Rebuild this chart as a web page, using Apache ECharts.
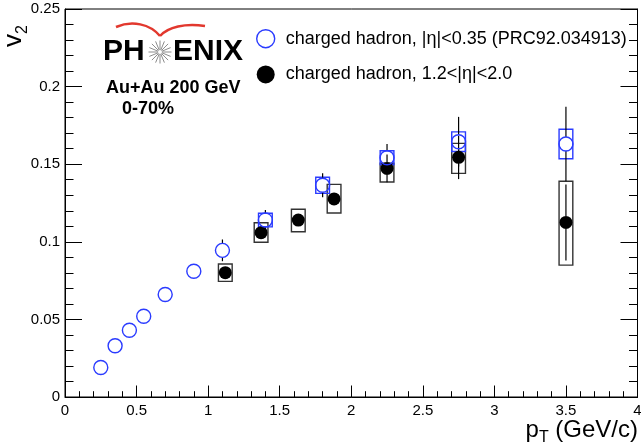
<!DOCTYPE html>
<html>
<head>
<meta charset="utf-8">
<script src="https://cdn.jsdelivr.net/npm/echarts@6/dist/echarts.min.js"></script>
<style>
  html, body { margin: 0; padding: 0; background: #fff; }
  #chart { width: 641px; height: 444px; }
</style>
</head>
<body>
<div id="chart"></div>
<script>
// Mid-rapidity charged hadrons, |eta| < 0.35 (PRC92.034913)
const ptMid   = [0.25, 0.35, 0.45, 0.55, 0.70, 0.90, 1.10, 1.40, 1.80, 2.25, 2.75, 3.50];
const v2Mid   = [0.019, 0.033, 0.043, 0.052, 0.066, 0.081, 0.0945, 0.114, 0.1364, 0.1542, 0.1645, 0.163];
const statMid = [0.002, 0.002, 0.002, 0.002, 0.002, 0.003, 0.007, 0.0065, 0.0077, 0.0088, 0.016, 0.024];
const sysMid  = [null, null, null, null, null, null, null, 0.0044, 0.0052, 0.0045, 0.0063, 0.0095];

// Forward charged hadrons, 1.2 < |eta| < 2.0
const ptFwd     = [1.12, 1.37, 1.63, 1.88, 2.25, 2.75, 3.50];
const v2Fwd     = [0.0801, 0.1059, 0.114, 0.1276, 0.1473, 0.1544, 0.1125];
const statFwd   = [0.003, 0.003, 0.003, 0.004, 0.009, 0.014, 0.0245];
const sysFwdUp  = [0.0056, 0.0064, 0.0070, 0.0094, 0.0033, 0.0090, 0.0265];
const sysFwdDn  = [0.0056, 0.0062, 0.0075, 0.0090, 0.0088, 0.0103, 0.0275];

// Axis ticks
const xTicks = [0, 0.5, 1, 1.5, 2, 2.5, 3, 3.5, 4];
const yTicks = [0, 0.05, 0.1, 0.15, 0.2, 0.25];

const nameMid = 'charged hadron, |\u03B7|<0.35 (PRC92.034913)';
const nameFwd = 'charged hadron, 1.2<|\u03B7|<2.0';

const FONT = '"Liberation Sans", Helvetica, Arial, sans-serif';
const BLUE = '#2a3bff';
const BOX_HW = 0.048;   // half width of systematic boxes, in GeV/c

const midRows = ptMid.map((x, i) => [x, v2Mid[i], statMid[i]]);
const fwdRows = ptFwd.map((x, i) => [x, v2Fwd[i], statFwd[i]]);
const midSys = ptMid.map((x, i) => [x, v2Mid[i], sysMid[i], sysMid[i]]).filter(r => r[2] != null);
const fwdSys = ptFwd.map((x, i) => [x, v2Fwd[i], sysFwdUp[i], sysFwdDn[i]]);

function boxItem(color) {
  return function (params, api) {
    const x = api.value(0), y = api.value(1), up = api.value(2), dn = api.value(3);
    const a = api.coord([x - BOX_HW, y + up]);
    const b = api.coord([x + BOX_HW, y - dn]);
    return {
      type: 'rect',
      shape: { x: a[0], y: a[1], width: b[0] - a[0], height: b[1] - a[1] },
      style: { fill: 'none', stroke: color, lineWidth: 1.4 }
    };
  };
}

// vertical statistical error bars, drawn outside the marker
function errItem(r) {
  return function (params, api) {
    const x = api.value(0), y = api.value(1), e = api.value(2);
    const c = api.coord([x, y]);
    const t = api.coord([x, y + e]);
    const b = api.coord([x, y - e]);
    const children = [];
    if (c[1] - t[1] > r) children.push({ type: 'line', shape: { x1: c[0], y1: t[1], x2: c[0], y2: c[1] - r }, style: { stroke: '#000', lineWidth: 1.2 } });
    if (b[1] - c[1] > r) children.push({ type: 'line', shape: { x1: c[0], y1: c[1] + r, x2: c[0], y2: b[1] }, style: { stroke: '#000', lineWidth: 1.2 } });
    return { type: 'group', children };
  };
}

// sunburst of the logo
const rays = [];
for (let k = 0; k < 16; k++) {
  const a = k * Math.PI / 8;
  rays.push({
    type: 'line', silent: true,
    shape: { x1: 160 + 2 * Math.cos(a), y1: 52 + 2 * Math.sin(a), x2: 160 + 11.5 * Math.cos(a), y2: 52 + 11.5 * Math.sin(a) },
    style: { stroke: '#8c8c8c', lineWidth: 1 }
  });
}

const axisCommon = {
  type: 'value',
  axisLine: { show: true, onZero: false, lineStyle: { color: '#000', width: 1 } },
  splitLine: { show: false },
  axisLabel: { color: '#000', fontSize: 15, fontFamily: FONT }
};

// main text token raised a little so the second token sits as a subscript
const richTitle = {
  a: { fontSize: 24, fontFamily: FONT, fill: '#000', color: '#000', verticalAlign: 'bottom', padding: [0, 0, 4, 0] },
  b: { fontSize: 16, fontFamily: FONT, fill: '#000', color: '#000', verticalAlign: 'bottom' }
};
const richTitleY = {
  a: { fontSize: 26, fontFamily: FONT, fill: '#000', color: '#000', verticalAlign: 'bottom', padding: [0, 0, 4, 0] },
  b: { fontSize: 16, fontFamily: FONT, fill: '#000', color: '#000', verticalAlign: 'bottom' }
};

const chart = echarts.init(document.getElementById('chart'), null, { renderer: 'canvas' });
chart.setOption({
  animation: false,
  backgroundColor: '#fff',
  grid: { left: 65, right: 3.5, top: 9, bottom: 47, containLabel: false, outerBoundsMode: 'none',
          show: true, borderColor: '#000', borderWidth: 1, backgroundColor: 'transparent' },
  xAxis: Object.assign({}, axisCommon, {
    min: xTicks[0], max: xTicks[xTicks.length - 1], interval: xTicks[1] - xTicks[0],
    axisTick: { show: true, inside: true, length: 11.5, lineStyle: { color: '#000' } },
    minorTick: { show: true, splitNumber: 5, length: 5.8, lineStyle: { color: '#000' } },
    axisLabel: Object.assign({}, axisCommon.axisLabel, { margin: 6 })
  }),
  yAxis: [
    Object.assign({}, axisCommon, {
      min: yTicks[0], max: yTicks[yTicks.length - 1], interval: yTicks[1] - yTicks[0],
      axisTick: { show: true, inside: true, length: 17, lineStyle: { color: '#000' } },
      minorTick: { show: true, splitNumber: 5, length: 8.5, lineStyle: { color: '#000' } },
      axisLabel: Object.assign({}, axisCommon.axisLabel, { margin: 5 })
    }),
    Object.assign({}, axisCommon, {
      position: 'right',
      min: yTicks[0], max: yTicks[yTicks.length - 1], interval: yTicks[1] - yTicks[0],
      axisTick: { show: true, inside: true, length: 17, lineStyle: { color: '#000' } },
      minorTick: { show: true, splitNumber: 5, length: 8.5, lineStyle: { color: '#000' } },
      axisLabel: { show: false }
    })
  ],
  legend: {
    orient: 'vertical', left: 251, top: 24,
    itemWidth: 30, itemHeight: 18, itemGap: 17,
    selectedMode: false,
    textStyle: { fontSize: 18, fontFamily: FONT, color: '#000', lineHeight: 18 },
    data: [
      { name: nameMid, icon: 'circle', itemStyle: { color: 'rgba(0,0,0,0)', borderColor: BLUE, borderWidth: 1.4 } },
      { name: nameFwd, icon: 'circle', itemStyle: { color: '#000' } }
    ]
  },
  graphic: [
    // logo wings
    { type: 'bezierCurve', silent: true, shape: { x1: 116, y1: 27, cpx1: 132, cpy1: 20, cpx2: 150, cpy2: 24, x2: 160, y2: 36 }, style: { stroke: '#e2382e', lineWidth: 2.5, fill: 'none' } },
    { type: 'bezierCurve', silent: true, shape: { x1: 160, y1: 36, cpx1: 168, cpy1: 27, cpx2: 185, cpy2: 23, x2: 205, y2: 26 }, style: { stroke: '#e2382e', lineWidth: 2.5, fill: 'none' } },
    ...rays,
    { type: 'text', silent: true, x: 103, y: 52, style: { text: 'PH', fill: '#000', font: 'bold 30px ' + FONT, align: 'left', verticalAlign: 'middle', textAlign: 'left', textVerticalAlign: 'middle' } },
    { type: 'text', silent: true, x: 173, y: 52, style: { text: 'ENIX', fill: '#000', font: 'bold 30px ' + FONT, align: 'left', verticalAlign: 'middle', textAlign: 'left', textVerticalAlign: 'middle' } },
    { type: 'text', silent: true, x: 106, y: 88, style: { text: 'Au+Au 200 GeV', fill: '#000', font: 'bold 18px ' + FONT, align: 'left', verticalAlign: 'middle', textAlign: 'left', textVerticalAlign: 'middle' } },
    { type: 'text', silent: true, x: 122, y: 109.5, style: { text: '0-70%', fill: '#000', font: 'bold 18px ' + FONT, align: 'left', verticalAlign: 'middle', textAlign: 'left', textVerticalAlign: 'middle' } },
    // axis titles
    { type: 'text', silent: true, x: 638, y: 446, style: {
        text: '{a|p}{b|T}{a| (GeV/c)}', align: 'right', verticalAlign: 'bottom', textAlign: 'right', textVerticalAlign: 'bottom',
        rich: richTitle } },
    { type: 'text', silent: true, x: 31, y: 47, rotation: Math.PI / 2, style: {
        text: '{a|v}{b|2}', align: 'left', verticalAlign: 'bottom', textAlign: 'left', textVerticalAlign: 'bottom',
        rich: richTitleY } }
  ],
  series: [
    { name: 'sys-fwd', type: 'custom', renderItem: boxItem('#333'), data: fwdSys, encode: { x: 0, y: 1 }, z: 2, silent: true },
    { name: 'sys-mid', type: 'custom', renderItem: boxItem(BLUE), data: midSys, encode: { x: 0, y: 1 }, z: 3, silent: true },
    { name: 'stat-fwd', type: 'custom', renderItem: errItem(6.5), data: fwdRows, encode: { x: 0, y: 1 }, z: 4, silent: true },
    { name: 'stat-mid', type: 'custom', renderItem: errItem(7), data: midRows, encode: { x: 0, y: 1 }, z: 4, silent: true },
    { name: nameFwd, type: 'scatter', data: fwdRows.map(r => [r[0], r[1]]), symbol: 'circle', symbolSize: 13,
      itemStyle: { color: '#000', opacity: 1 }, z: 5, silent: true },
    { name: nameMid, type: 'scatter', data: midRows.map(r => [r[0], r[1]]), symbol: 'circle', symbolSize: 14,
      itemStyle: { color: 'rgba(0,0,0,0)', borderColor: BLUE, borderWidth: 1.4, opacity: 1 }, z: 6, silent: true }
  ]
});
</script>
</body>
</html>
